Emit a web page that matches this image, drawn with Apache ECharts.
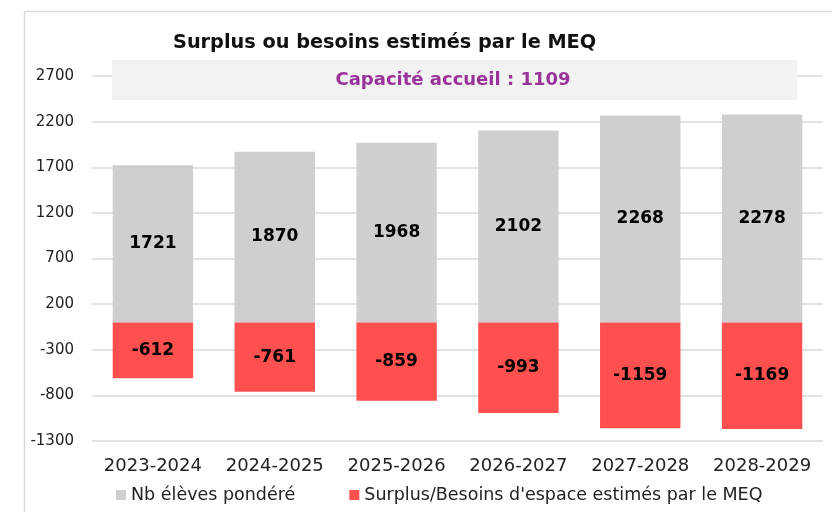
<!DOCTYPE html>
<html>
<head>
<meta charset="utf-8">
<script src="https://cdn.jsdelivr.net/npm/echarts@6/dist/echarts.min.js"></script>
<style>
  html, body { margin: 0; padding: 0; background: #fff; }
  #chart { width: 832px; height: 512px; }
</style>
</head>
<body>
<div id="chart"></div>
<script>
// School years shown on the category axis
const years = ['2023-2024', '2024-2025', '2025-2026', '2026-2027', '2027-2028', '2028-2029'];
// Weighted student counts
const weightedStudents = [1721, 1870, 1968, 2102, 2268, 2278];
// Estimated surplus / space needs (negative = shortfall)
const spaceNeeds = [-612, -761, -859, -993, -1159, -1169];
// Reception capacity shown in the banner
const capacity = 1109;
// Value axis range
const yMin = -1300, yMax = 2700, yStep = 500;

const FONT = '"DejaVu Sans", sans-serif';
const chart = echarts.init(document.getElementById('chart'), null, { renderer: 'canvas' });

const barLabel = { show: true, position: 'inside', color: '#000', fontSize: 17, fontWeight: 'bold', fontFamily: FONT };

chart.setOption({
  animation: false,
  textStyle: { fontFamily: FONT },
  title: {
    text: 'Surplus ou besoins estimés par le MEQ',
    left: 168, top: 28,
    textStyle: { fontSize: 19.3, fontWeight: 'bold', color: '#111', fontFamily: FONT }
  },
  grid: { left: 92, right: 9, top: 76, bottom: 71 },
  xAxis: {
    type: 'category',
    data: years,
    axisLine: { show: false },
    axisTick: { show: false },
    axisLabel: { color: '#222', fontSize: 18, margin: 16, interval: 0, fontFamily: FONT }
  },
  yAxis: {
    type: 'value',
    min: yMin, max: yMax, interval: yStep,
    axisLine: { show: false },
    axisTick: { show: false },
    axisLabel: { color: '#222', fontSize: 15, margin: 18, fontFamily: FONT, formatter: v => String(v) },
    splitLine: { lineStyle: { color: '#d9d9d9', width: 1.5 } }
  },
  legend: {
    bottom: 3, left: 111,
    itemWidth: 10, itemHeight: 10, itemGap: 54,
    icon: 'rect',
    textStyle: { color: '#222', fontSize: 17.5, fontFamily: FONT },
    data: ['Nb élèves pondéré', "Surplus/Besoins d'espace estimés par le MEQ"]
  },
  graphic: [
    {
      type: 'rect', silent: true, z: -1,
      shape: { x: 24.5, y: 11.5, width: 900, height: 600 },
      style: { fill: 'none', stroke: '#d9d9d9', lineWidth: 1.5 }
    },
    {
      type: 'rect', silent: true, z: 10,
      shape: { x: 112, y: 60, width: 685, height: 40 },
      style: { fill: '#f2f2f2' }
    },
    {
      type: 'text', silent: true, z: 11,
      x: 453, y: 80,
      style: {
        text: 'Capacité accueil : ' + capacity,
        fill: '#993399',
        font: 'bold 18px ' + FONT,
        textAlign: 'center',
        textVerticalAlign: 'middle'
      }
    }
  ],
  series: [
    {
      name: 'Nb élèves pondéré',
      type: 'bar',
      stack: 'total',
      barWidth: '66%',
      data: weightedStudents,
      itemStyle: { color: '#d0cece' },
      label: barLabel
    },
    {
      name: "Surplus/Besoins d'espace estimés par le MEQ",
      type: 'bar',
      stack: 'total',
      barWidth: '66%',
      data: spaceNeeds,
      itemStyle: { color: '#ff5050' },
      label: barLabel
    }
  ]
});
</script>
</body>
</html>
